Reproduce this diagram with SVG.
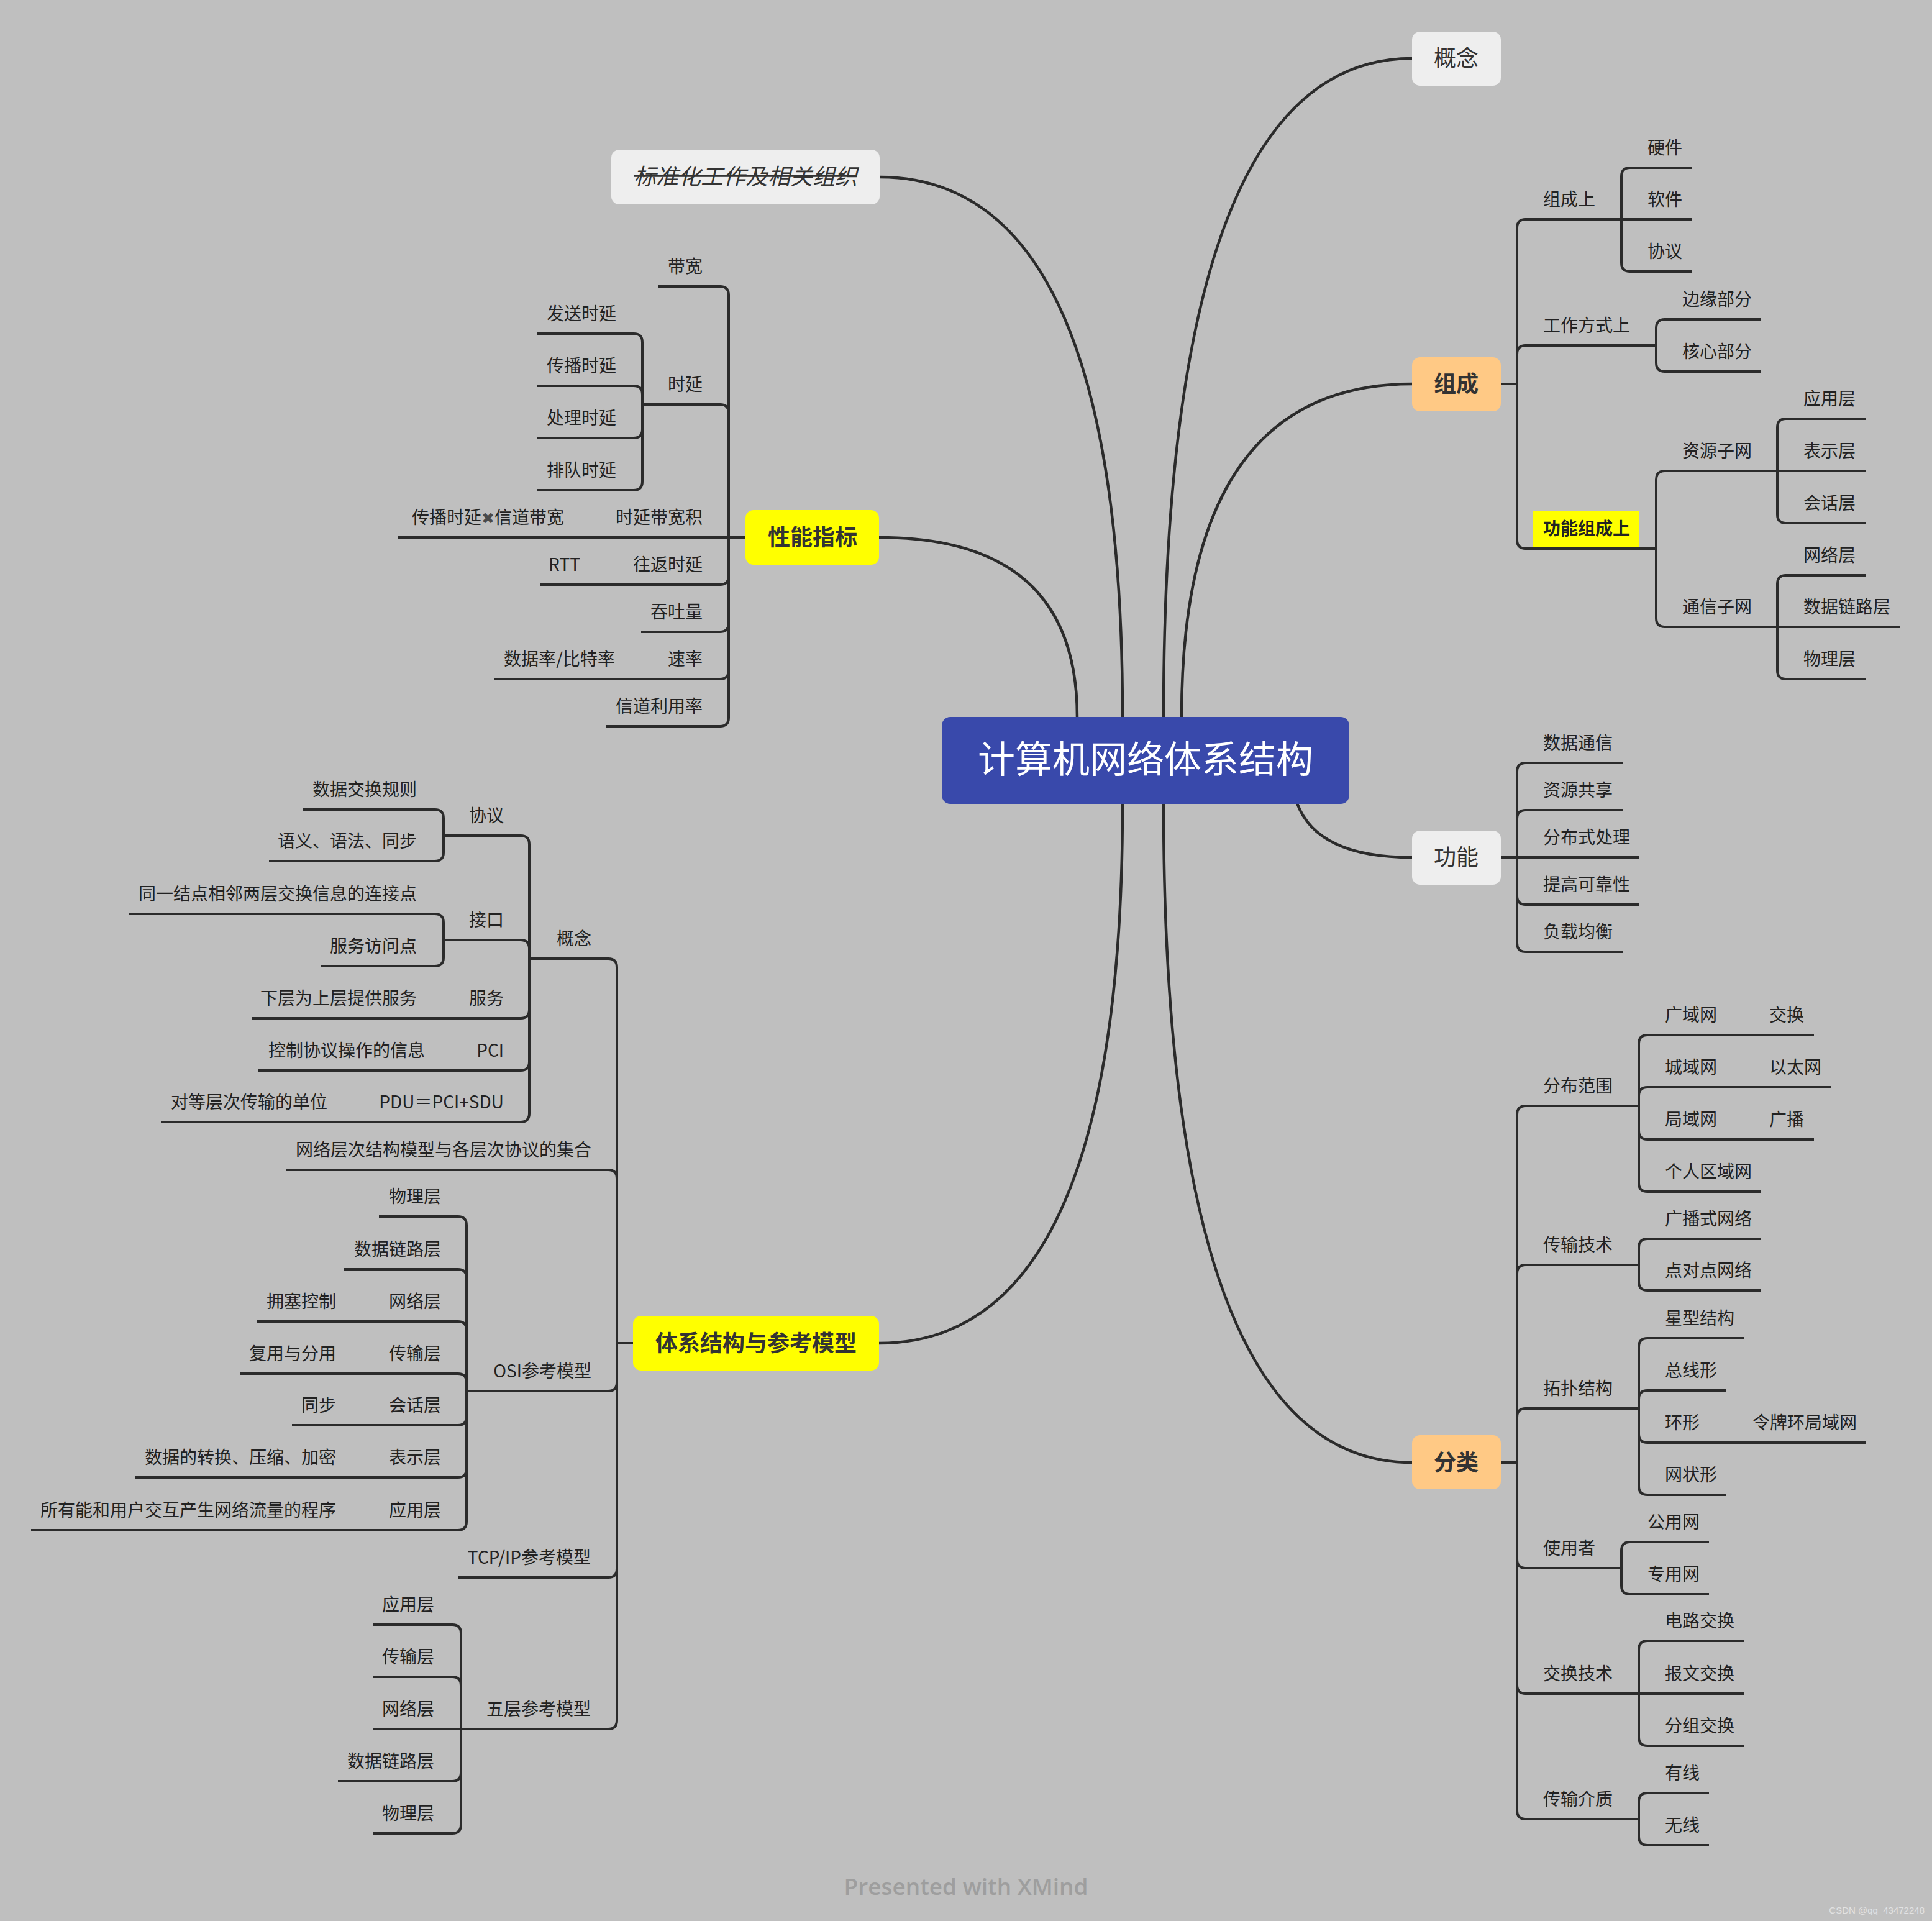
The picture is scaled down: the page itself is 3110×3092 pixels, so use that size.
<svg xmlns="http://www.w3.org/2000/svg" width="3110" height="3092" viewBox="0 0 3110 3092">
<style>
.c{fill:none;stroke:#2b2b2b;stroke-width:4}
.m{fill:none;stroke:#2b2b2b;stroke-width:4.5}
.t{font-family:"Noto Sans CJK SC","Noto Sans",sans-serif;font-size:28px;fill:#222}
.e{text-anchor:end}
.b{font-weight:bold}
.bx{font-family:"Noto Sans CJK SC","Noto Sans",sans-serif;font-size:36px;text-anchor:middle;fill:#333}
.lt{fill:#eeeeee}
.or{fill:#ffc985}
.ye{fill:#ffff00}
</style>
<rect x="0" y="0" width="3110" height="3092" fill="#bfbfbf"/>

<g id="connectors">
<!-- root curves -->
<path class="m" d="M1873 1154 Q1873 94 2273 94"/>
<path class="m" d="M1902 1154 Q1902 618 2273 618"/>
<path class="m" d="M2088 1293 Q2120 1380 2273 1380"/>
<path class="m" d="M1873 1294 Q1873 2354 2273 2354"/>
<path class="m" d="M1807 1154 Q1807 285 1416 285"/>
<path class="m" d="M1734 1154 Q1734 865 1415 865"/>
<path class="m" d="M1807 1294 Q1807 2162 1415 2162"/>
<!-- 组成 -->
<path class="c" d="M2415 618 H2442"/>
<path class="c" d="M2442 618 V367 Q2442 353 2456 353 H2610"/>
<path class="c" d="M2442 618 V570 Q2442 556 2456 556 H2666"/>
<path class="c" d="M2442 618 V869 Q2442 883 2456 883 H2666"/>
<path class="c" d="M2610 353 V284 Q2610 270 2624 270 H2724"/>
<path class="c" d="M2610 353 H2724"/>
<path class="c" d="M2610 353 V423 Q2610 437 2624 437 H2724"/>
<path class="c" d="M2666 556 V528 Q2666 514 2680 514 H2835"/>
<path class="c" d="M2666 556 V584 Q2666 598 2680 598 H2835"/>
<path class="c" d="M2666 883 V772 Q2666 758 2680 758 H2861"/>
<path class="c" d="M2666 883 V995 Q2666 1009 2680 1009 H2861"/>
<path class="c" d="M2861 758 V688 Q2861 674 2875 674 H3003"/>
<path class="c" d="M2861 758 H3003"/>
<path class="c" d="M2861 758 V828 Q2861 842 2875 842 H3003"/>
<path class="c" d="M2861 1009 V940 Q2861 926 2875 926 H3003"/>
<path class="c" d="M2861 1009 H3059"/>
<path class="c" d="M2861 1009 V1079 Q2861 1093 2875 1093 H3003"/>
<!-- 功能 -->
<path class="c" d="M2415 1380 H2442"/>
<path class="c" d="M2442 1380 V1242 Q2442 1228 2456 1228 H2612"/>
<path class="c" d="M2442 1380 V1318 Q2442 1304 2456 1304 H2612"/>
<path class="c" d="M2442 1380 H2639"/>
<path class="c" d="M2442 1380 V1442 Q2442 1456 2456 1456 H2639"/>
<path class="c" d="M2442 1380 V1518 Q2442 1532 2456 1532 H2612"/>
<!-- 分类 -->
<path class="c" d="M2415 2354 H2442"/>
<path class="c" d="M2442 2354 V1794 Q2442 1780 2456 1780 H2638"/>
<path class="c" d="M2442 2354 V2050 Q2442 2036 2456 2036 H2638"/>
<path class="c" d="M2442 2354 V2281 Q2442 2267 2456 2267 H2638"/>
<path class="c" d="M2442 2354 V2510 Q2442 2524 2456 2524 H2610"/>
<path class="c" d="M2442 2354 V2712 Q2442 2726 2456 2726 H2638"/>
<path class="c" d="M2442 2354 V2914 Q2442 2928 2456 2928 H2638"/>
<path class="c" d="M2638 1780 V1680 Q2638 1666 2652 1666 H2920"/>
<path class="c" d="M2638 1780 V1764 Q2638 1750 2652 1750 H2948"/>
<path class="c" d="M2638 1780 V1820 Q2638 1834 2652 1834 H2920"/>
<path class="c" d="M2638 1780 V1904 Q2638 1918 2652 1918 H2835"/>
<path class="c" d="M2638 2036 V2008 Q2638 1994 2652 1994 H2835"/>
<path class="c" d="M2638 2036 V2063 Q2638 2077 2652 2077 H2835"/>
<path class="c" d="M2638 2267 V2168 Q2638 2154 2652 2154 H2807"/>
<path class="c" d="M2638 2267 V2252 Q2638 2238 2652 2238 H2779"/>
<path class="c" d="M2638 2267 V2308 Q2638 2322 2652 2322 H3003"/>
<path class="c" d="M2638 2267 V2392 Q2638 2406 2652 2406 H2779"/>
<path class="c" d="M2610 2524 V2496 Q2610 2482 2624 2482 H2751"/>
<path class="c" d="M2610 2524 V2552 Q2610 2566 2624 2566 H2751"/>
<path class="c" d="M2638 2726 V2655 Q2638 2641 2652 2641 H2807"/>
<path class="c" d="M2638 2726 H2807"/>
<path class="c" d="M2638 2726 V2796 Q2638 2810 2652 2810 H2807"/>
<path class="c" d="M2638 2928 V2900 Q2638 2886 2652 2886 H2751"/>
<path class="c" d="M2638 2928 V2956 Q2638 2970 2652 2970 H2751"/>
<!-- 性能指标 -->
<path class="c" d="M1200 865 H1173"/>
<path class="c" d="M1173 865 V475 Q1173 461 1159 461 H1059"/>
<path class="c" d="M1173 865 V665 Q1173 651 1159 651 H1034"/>
<path class="c" d="M1173 865 H640"/>
<path class="c" d="M1173 865 V927 Q1173 941 1159 941 H870"/>
<path class="c" d="M1173 865 V1003 Q1173 1017 1159 1017 H1032"/>
<path class="c" d="M1173 865 V1079 Q1173 1093 1159 1093 H796"/>
<path class="c" d="M1173 865 V1155 Q1173 1169 1159 1169 H976"/>
<path class="c" d="M1034 651 V551 Q1034 537 1020 537 H864"/>
<path class="c" d="M1034 651 V635 Q1034 621 1020 621 H864"/>
<path class="c" d="M1034 651 V691 Q1034 705 1020 705 H864"/>
<path class="c" d="M1034 651 V775 Q1034 789 1020 789 H864"/>
<!-- 体系结构与参考模型 -->
<path class="c" d="M1019 2162 H993"/>
<path class="c" d="M993 2162 V1557 Q993 1543 979 1543 H852"/>
<path class="c" d="M993 2162 V1897 Q993 1883 979 1883 H460"/>
<path class="c" d="M993 2162 V2225 Q993 2239 979 2239 H751"/>
<path class="c" d="M993 2162 V2525 Q993 2539 979 2539 H738"/>
<path class="c" d="M993 2162 V2769 Q993 2783 979 2783 H742"/>
<path class="c" d="M852 1543 V1359 Q852 1345 838 1345 H714"/>
<path class="c" d="M852 1543 V1527 Q852 1513 838 1513 H714"/>
<path class="c" d="M852 1543 V1625 Q852 1639 838 1639 H405"/>
<path class="c" d="M852 1543 V1709 Q852 1723 838 1723 H416"/>
<path class="c" d="M852 1543 V1792 Q852 1806 838 1806 H259"/>
<path class="c" d="M714 1345 V1317 Q714 1303 700 1303 H488"/>
<path class="c" d="M714 1345 V1372 Q714 1386 700 1386 H433"/>
<path class="c" d="M714 1513 V1485 Q714 1471 700 1471 H208"/>
<path class="c" d="M714 1513 V1541 Q714 1555 700 1555 H517"/>
<path class="c" d="M751 2239 V1972 Q751 1958 737 1958 H610"/>
<path class="c" d="M751 2239 V2057 Q751 2043 737 2043 H554"/>
<path class="c" d="M751 2239 V2141 Q751 2127 737 2127 H414"/>
<path class="c" d="M751 2239 V2225 Q751 2211 737 2211 H386"/>
<path class="c" d="M751 2239 V2280 Q751 2294 737 2294 H470"/>
<path class="c" d="M751 2239 V2364 Q751 2378 737 2378 H218"/>
<path class="c" d="M751 2239 V2449 Q751 2463 737 2463 H50"/>
<path class="c" d="M742 2783 V2629 Q742 2615 728 2615 H600"/>
<path class="c" d="M742 2783 V2713 Q742 2699 728 2699 H600"/>
<path class="c" d="M742 2783 H600"/>
<path class="c" d="M742 2783 V2853 Q742 2867 728 2867 H544"/>
<path class="c" d="M742 2783 V2937 Q742 2951 728 2951 H600"/>
</g>

<g id="root">
<rect x="1516" y="1154" width="656" height="140" rx="14" fill="#3949ab"/>
<text x="1844" y="1244" font-family="Noto Sans CJK SC, sans-serif" font-size="60" fill="#ffffff" text-anchor="middle">计算机网络体系结构</text>
</g>

<g id="n-gainian"><rect class="lt" x="2273" y="51" width="143" height="87" rx="13"/><text class="bx" x="2344" y="107">概念</text></g>
<g id="n-zucheng"><rect class="or" x="2273" y="575" width="143" height="87" rx="13"/><text class="bx b" x="2344" y="631">组成</text></g>
<g id="n-gongneng"><rect class="lt" x="2273" y="1337" width="143" height="87" rx="13"/><text class="bx" x="2344" y="1393">功能</text></g>
<g id="n-fenlei"><rect class="or" x="2273" y="2310" width="143" height="87" rx="13"/><text class="bx b" x="2344" y="2367">分类</text></g>
<g id="n-biaozhun"><rect class="lt" x="984" y="241" width="432" height="88" rx="13"/><text class="bx" x="1200" y="297" font-style="italic" text-decoration="line-through">标准化工作及相关组织</text></g>
<g id="n-xingneng"><rect class="ye" x="1200" y="821" width="215" height="88" rx="13"/><text class="bx b" x="1308" y="878">性能指标</text></g>
<g id="n-tixi"><rect class="ye" x="1019" y="2118" width="396" height="88" rx="13"/><text class="bx b" x="1217" y="2175">体系结构与参考模型</text></g>

<g id="zucheng-children">
<g id="n-zcs"><text class="t" x="2484" y="331">组成上</text></g>
<g id="n-yj"><text class="t" x="2652" y="248">硬件</text></g>
<g id="n-rj"><text class="t" x="2652" y="331">软件</text></g>
<g id="n-xy"><text class="t" x="2652" y="415">协议</text></g>
<g id="n-gzfs"><text class="t" x="2484" y="534">工作方式上</text></g>
<g id="n-byb"><text class="t" x="2708" y="492">边缘部分</text></g>
<g id="n-hxb"><text class="t" x="2708" y="576">核心部分</text></g>
<g id="n-gnzc"><rect class="ye" x="2468" y="822" width="171" height="59"/><text class="t b" x="2484" y="861">功能组成上</text></g>
<g id="n-zyzw"><text class="t" x="2708" y="736">资源子网</text></g>
<g id="n-txzw"><text class="t" x="2708" y="987">通信子网</text></g>
<g id="n-yyc1"><text class="t" x="2903" y="652">应用层</text></g>
<g id="n-bsc1"><text class="t" x="2903" y="736">表示层</text></g>
<g id="n-hhc1"><text class="t" x="2903" y="820">会话层</text></g>
<g id="n-wlc1"><text class="t" x="2903" y="904">网络层</text></g>
<g id="n-sjl1"><text class="t" x="2903" y="987">数据链路层</text></g>
<g id="n-wl1"><text class="t" x="2903" y="1071">物理层</text></g>
</g>

<g id="gongneng-children">
<g id="n-sjtx"><text class="t" x="2484" y="1206">数据通信</text></g>
<g id="n-zygx"><text class="t" x="2484" y="1282">资源共享</text></g>
<g id="n-fbs"><text class="t" x="2484" y="1358">分布式处理</text></g>
<g id="n-tgk"><text class="t" x="2484" y="1434">提高可靠性</text></g>
<g id="n-fzjh"><text class="t" x="2484" y="1510">负载均衡</text></g>
</g>

<g id="fenlei-children">
<g id="n-fbfw"><text class="t" x="2484" y="1758">分布范围</text></g>
<g id="n-gyw"><text class="t" x="2680" y="1644">广域网</text><text class="t" x="2848" y="1644">交换</text></g>
<g id="n-cyw"><text class="t" x="2680" y="1728">城域网</text><text class="t" x="2848" y="1728">以太网</text></g>
<g id="n-jyw"><text class="t" x="2680" y="1812">局域网</text><text class="t" x="2848" y="1812">广播</text></g>
<g id="n-grq"><text class="t" x="2680" y="1896">个人区域网</text></g>
<g id="n-csjs"><text class="t" x="2484" y="2014">传输技术</text></g>
<g id="n-gbs"><text class="t" x="2680" y="1972">广播式网络</text></g>
<g id="n-ddd"><text class="t" x="2680" y="2055">点对点网络</text></g>
<g id="n-tpjg"><text class="t" x="2484" y="2245">拓扑结构</text></g>
<g id="n-xxjg"><text class="t" x="2680" y="2132">星型结构</text></g>
<g id="n-zxx"><text class="t" x="2680" y="2216">总线形</text></g>
<g id="n-hx"><text class="t" x="2680" y="2300">环形</text><text class="t" x="2821" y="2300">令牌环局域网</text></g>
<g id="n-wzx"><text class="t" x="2680" y="2384">网状形</text></g>
<g id="n-syz"><text class="t" x="2484" y="2502">使用者</text></g>
<g id="n-gyw2"><text class="t" x="2652" y="2460">公用网</text></g>
<g id="n-zyw"><text class="t" x="2652" y="2544">专用网</text></g>
<g id="n-jhjs"><text class="t" x="2484" y="2704">交换技术</text></g>
<g id="n-dljh"><text class="t" x="2680" y="2619">电路交换</text></g>
<g id="n-bwjh"><text class="t" x="2680" y="2704">报文交换</text></g>
<g id="n-fzjh2"><text class="t" x="2680" y="2788">分组交换</text></g>
<g id="n-csjz"><text class="t" x="2484" y="2906">传输介质</text></g>
<g id="n-yx"><text class="t" x="2680" y="2864">有线</text></g>
<g id="n-wx"><text class="t" x="2680" y="2948">无线</text></g>
</g>

<g id="xingneng-children">
<g id="n-dk"><text class="t e" x="1131" y="439">带宽</text></g>
<g id="n-sy"><text class="t e" x="1131" y="629">时延</text></g>
<g id="n-fssy"><text class="t e" x="992" y="515">发送时延</text></g>
<g id="n-cbsy"><text class="t e" x="992" y="599">传播时延</text></g>
<g id="n-clsy"><text class="t e" x="992" y="683">处理时延</text></g>
<g id="n-pdsy"><text class="t e" x="992" y="767">排队时延</text></g>
<g id="n-sydkj"><text class="t e" x="1131" y="843">时延带宽积</text><text class="t e" x="908" y="843">传播时延<tspan font-family="DejaVu Sans, sans-serif" font-size="25" fill="#4a4a4a">✖</tspan>信道带宽</text></g>
<g id="n-wfsy"><text class="t e" x="1131" y="919">往返时延</text><text class="t e" x="934" y="919">RTT</text></g>
<g id="n-ttl"><text class="t e" x="1131" y="995">吞吐量</text></g>
<g id="n-sl"><text class="t e" x="1131" y="1071">速率</text><text class="t e" x="990" y="1071">数据率/比特率</text></g>
<g id="n-xdlyl"><text class="t e" x="1131" y="1147">信道利用率</text></g>
</g>

<g id="tixi-children">
<g id="n-gn2"><text class="t e" x="952" y="1521">概念</text></g>
<g id="n-xy2"><text class="t e" x="811" y="1323">协议</text></g>
<g id="n-sjjh"><text class="t e" x="671" y="1281">数据交换规则</text></g>
<g id="n-yy"><text class="t e" x="671" y="1364">语义、语法、同步</text></g>
<g id="n-jk"><text class="t e" x="811" y="1491">接口</text></g>
<g id="n-tyjd"><text class="t e" x="671" y="1449">同一结点相邻两层交换信息的连接点</text></g>
<g id="n-fwfw"><text class="t e" x="671" y="1533">服务访问点</text></g>
<g id="n-fw"><text class="t e" x="811" y="1617">服务</text><text class="t e" x="671" y="1617">下层为上层提供服务</text></g>
<g id="n-pci"><text class="t e" x="811" y="1701">PCI</text><text class="t e" x="684" y="1701">控制协议操作的信息</text></g>
<g id="n-pdu"><text class="t e" x="811" y="1784">PDU＝PCI+SDU</text><text class="t e" x="527" y="1784">对等层次传输的单位</text></g>
<g id="n-wlcc"><text class="t e" x="952" y="1861">网络层次结构模型与各层次协议的集合</text></g>
<g id="n-osi"><text class="t e" x="952" y="2217">OSI参考模型</text></g>
<g id="n-osi1"><text class="t e" x="710" y="1936">物理层</text></g>
<g id="n-osi2"><text class="t e" x="710" y="2021">数据链路层</text></g>
<g id="n-osi3"><text class="t e" x="710" y="2105">网络层</text><text class="t e" x="541" y="2105">拥塞控制</text></g>
<g id="n-osi4"><text class="t e" x="710" y="2189">传输层</text><text class="t e" x="541" y="2189">复用与分用</text></g>
<g id="n-osi5"><text class="t e" x="710" y="2272">会话层</text><text class="t e" x="541" y="2272">同步</text></g>
<g id="n-osi6"><text class="t e" x="710" y="2356">表示层</text><text class="t e" x="541" y="2356">数据的转换、压缩、加密</text></g>
<g id="n-osi7"><text class="t e" x="710" y="2441">应用层</text><text class="t e" x="541" y="2441">所有能和用户交互产生网络流量的程序</text></g>
<g id="n-tcpip"><text class="t e" x="951" y="2517">TCP/IP参考模型</text></g>
<g id="n-wc"><text class="t e" x="951" y="2761">五层参考模型</text></g>
<g id="n-wc1"><text class="t e" x="699" y="2593">应用层</text></g>
<g id="n-wc2"><text class="t e" x="699" y="2677">传输层</text></g>
<g id="n-wc3"><text class="t e" x="699" y="2761">网络层</text></g>
<g id="n-wc4"><text class="t e" x="699" y="2845">数据链路层</text></g>
<g id="n-wc5"><text class="t e" x="699" y="2929">物理层</text></g>
</g>

<text x="1555" y="3050" font-family="Open Sans, sans-serif" font-weight="600" font-size="36" fill="#9e9e9e" text-anchor="middle" textLength="393" lengthAdjust="spacingAndGlyphs">Presented with XMind</text>
<text x="3098" y="3080" font-family="Liberation Sans, sans-serif" font-size="15" fill="#e2e2e2" text-anchor="end">CSDN @qq_43472248</text>
</svg>
